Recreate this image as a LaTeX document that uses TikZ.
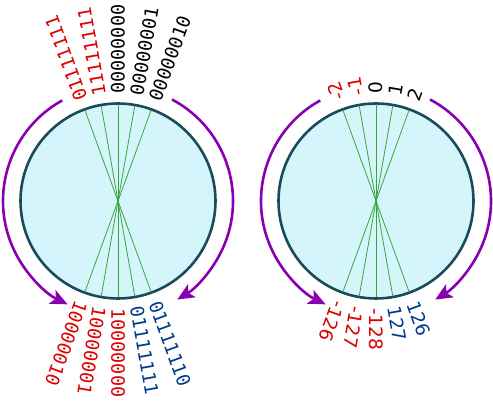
\documentclass[tikz,border=0pt]{standalone}
\usepackage{fontspec}
\newfontfamily\binfont{DejaVu Sans Mono}
\newfontfamily\numfont{DejaVu Sans}
\usetikzlibrary{arrows.meta}
\definecolor{ringfill}{HTML}{D5F5FD}
\definecolor{ringline}{HTML}{1B4A58}
\definecolor{spokegreen}{HTML}{3AA63A}
\definecolor{arcpurple}{HTML}{8A00B0}
\definecolor{negred}{HTML}{DD0000}
\definecolor{posblue}{HTML}{003C8C}
\tikzset{
  ring/.style={circle, draw=ringline, fill=ringfill, line width=2.6pt,
    minimum size=195pt, inner sep=0pt},
  spoke/.style={spokegreen, line width=0.8pt},
  wrap/.style={arcpurple, line width=2.6pt,
    -{Stealth[length=17pt, width=15pt, inset=4pt]}},
  lbl/.style={anchor=west, inner sep=0pt, font=\fontsize{18.5}{20}\selectfont}
}

\begin{document}
\begin{tikzpicture}[x=1pt,y=1pt]
  \useasboundingbox (0,0) rectangle (493,401);
  % binary ring
  \begin{scope}[shift={(118,200)}]
    \node[ring] (binring) at (0,0) {};
    \foreach \a in {70,80,...,110}
      \draw[spoke] (\a:96.5) -- (\a+180:96.5);
    \draw[wrap] (119:115) arc[start angle=119, end angle=244, radius=115];
    \draw[wrap] (62:115) arc[start angle=62, end angle=-59, radius=115];
    \foreach \a/\n/\c in {110/01111111/negred, 100/11111111/negred,
        90/00000000/black, 80/00000001/black, 70/00000010/black,
        250/10000010/negred, 260/10000001/negred, 270/10000000/negred,
        280/01111111/posblue, 290/01111110/posblue}
      \node[lbl, rotate=\a, text=\c] (bin\a) at (\a:107) {\binfont\n};
  \end{scope}
  % signed ring
  \begin{scope}[shift={(376,200)}]
    \node[ring] (decring) at (0,0) {};
    \foreach \a in {70,80,...,110}
      \draw[spoke] (\a:96.5) -- (\a+180:96.5);
    \draw[wrap] (119:115) arc[start angle=119, end angle=244, radius=115];
    \draw[wrap] (62:115) arc[start angle=62, end angle=-59, radius=115];
    \foreach \a/\n/\c in {110/-2/negred, 100/-1/negred,
        90/0/black, 80/1/black, 70/2/black,
        250/-126/negred, 260/-127/negred, 270/-128/negred,
        280/127/posblue, 290/126/posblue}
      \node[lbl, rotate=\a, text=\c] (dec\a) at (\a:107) {\numfont\n};
  \end{scope}
\end{tikzpicture}
\end{document}
